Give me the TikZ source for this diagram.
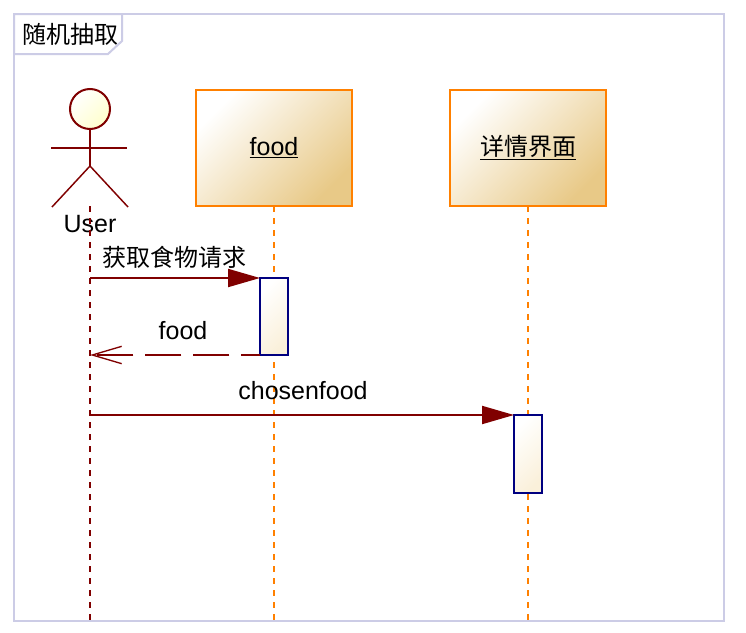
\documentclass[tikz,border=0pt]{standalone}
\usepackage{fontspec}
\setmainfont{Liberation Sans}
\newfontfamily\cjk{Noto Sans CJK SC}
\usetikzlibrary{arrows.meta, positioning}
\definecolor{framelilac}{RGB}{204,204,230}
\definecolor{lineorange}{RGB}{255,128,0}
\definecolor{msgred}{RGB}{128,0,0}
\definecolor{barnavy}{RGB}{0,0,128}
\definecolor{boxgold}{RGB}{232,201,135}
\definecolor{bargold}{RGB}{250,240,218}
\definecolor{headyellow}{RGB}{255,255,204}

\begin{document}
\begin{tikzpicture}[
    x=0.75pt, y=-0.75pt,
    txt/.style={inner sep=0pt, outer sep=0pt, font=\fontsize{18.75pt}{20pt}\selectfont},
    cjktxt/.style={font=\fontsize{18pt}{20pt}\cjk},
    framebox/.style={rectangle, draw=framelilac, line width=1.5pt, outer sep=0pt,
        minimum width=532.5pt, minimum height=455.25pt},
    tagbox/.style={draw=framelilac, line width=1.5pt, fill=white},
    classbox/.style={rectangle, draw=lineorange, line width=1.5pt, outer sep=0pt,
        top color=white, bottom color=boxgold, shading angle=45,
        minimum width=117pt, minimum height=87pt, txt},
    activebar/.style={rectangle, draw=barnavy, line width=1.5pt, outer sep=0pt,
        top color=white, bottom color=bargold, shading angle=45, minimum width=21pt},
    headcircle/.style={circle, draw=msgred, line width=1.5pt, outer sep=0pt, inner sep=0pt,
        top color=white, bottom color=headyellow, shading angle=45, minimum size=30pt},
    limb/.style={draw=msgred, line width=1.5pt},
    leg/.style={draw=msgred, line width=1.1pt},
    lifeuser/.style={draw=msgred, line width=1.5pt, dash pattern=on 4.5pt off 4.5pt},
    lifeclass/.style={draw=lineorange, line width=1.5pt, dash pattern=on 4.5pt off 4.5pt},
    msg/.style={draw=msgred, line width=1.5pt, -{Triangle[length=24pt, width=13.5pt]}},
    reply/.style={draw=msgred, line width=1.5pt, dash pattern=on 27pt off 9pt, dash phase=13pt,
        -{Straight Barb[length=22pt, width=13pt, line width=1pt]}}
]
    \path[use as bounding box, fill=white] (0,0) rectangle (746,632);

    \node[framebox] (frame) at (369,317.5) {};
    \draw[tagbox] (14,14) -- (122,14) -- (122,41) -- (108,54) -- (14,54) -- cycle;
    \node[txt, cjktxt] (title) at (70,34) {随机抽取};

    \node[classbox] (food) at (274,148) {\underline{food}};
    \node[classbox, cjktxt, right=73.5pt of food] (detail) {\underline{详情界面}};

    % actor
    \node[headcircle] (head) at (90,109) {};
    \node[txt] (user) at (90,224) {User};
    \coordinate (hip) at (90,166);
    \coordinate (handl) at (51,148);
    \coordinate (handr) at (127,148);
    \coordinate (footl) at (52,207);
    \coordinate (footr) at (128,207);
    \draw[limb] (head) -- (hip);
    \draw[limb] (handl) -- (handr);
    \draw[leg] (footl) -- (hip) -- (footr);

    % lifelines
    \coordinate (usertop) at (90,206);
    \coordinate (userend) at (90,621);
    \coordinate (foodend) at (274,621);
    \coordinate (detailend) at (528,621);
    \draw[lifeuser] (usertop) -- (userend);
    \draw[lifeclass] (food.south) -- (foodend);
    \draw[lifeclass] (detail.south) -- (detailend);

    \node[activebar, minimum height=57.75pt] (bar1) at (274,316.5) {};
    \node[activebar, minimum height=58.5pt] (bar2) at (528,454) {};

    \coordinate (ask) at (90,278);
    \coordinate (back) at (90,355);
    \coordinate (pick) at (90,415);
    \draw[msg] (ask) -- (bar1.north west);
    \draw[reply] (bar1.south west) -- (back);
    \draw[msg] (pick) -- (bar2.north west);

    \node[txt, cjktxt] (asklabel) at (174,257) {获取食物请求};
    \node[txt] (backlabel) at (183,331) {food};
    \node[txt] (picklabel) at (303,391) {chosenfood};
\end{tikzpicture}
\end{document}
